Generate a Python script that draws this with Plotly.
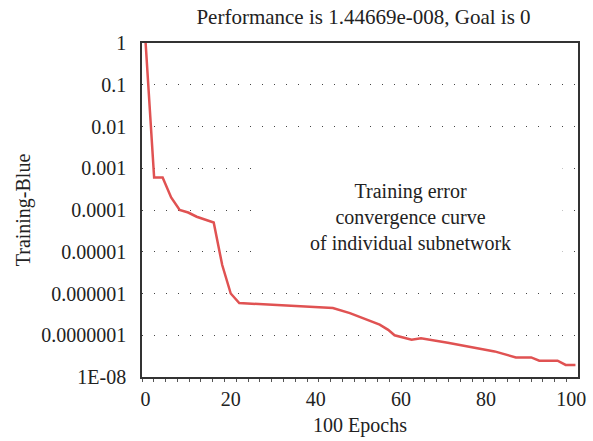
import plotly.graph_objects as go

epochs = [0, 2, 4, 6, 8, 10, 12, 16, 18, 20, 22, 30, 40, 44, 48, 52, 55, 57, 58.5,
          62.5, 64.7, 71, 77, 82, 87, 90.6, 92.5, 96.8, 98.7, 101]
errors = [1, 6e-4, 6e-4, 2e-4, 1e-4, 8.7e-5, 6.9e-5, 5e-5, 4.8e-6, 1e-6, 5.9e-7,
          5.4e-7, 4.9e-7, 4.5e-7, 3.4e-7, 2.4e-7, 1.8e-7, 1.35e-7, 1e-7,
          7.8e-8, 8.5e-8, 6.6e-8, 5e-8, 4.1e-8, 2.95e-8, 2.95e-8, 2.45e-8, 2.45e-8,
          1.95e-8, 1.95e-8]

y_tickvals = [1, 0.1, 0.01, 0.001, 1e-4, 1e-5, 1e-6, 1e-7, 1e-8]
y_ticktext = ["1", "0.1", "0.01", "0.001", "0.0001", "0.00001", "0.000001",
              "0.0000001", "1E-08"]
x_tickvals = [0, 20, 40, 60, 80, 100]

title_text = "Performance is 1.44669e-008, Goal is 0"
note_text = "Training error<br>convergence curve<br>of individual subnetwork"

FONT = "Liberation Serif"
INK = "#222222"

fig = go.Figure()
fig.add_trace(go.Scatter(x=epochs, y=errors, mode="lines",
                         line=dict(color="#e05252", width=2.5),
                         showlegend=False, hoverinfo="skip"))

fig.add_shape(type="rect", xref="x", yref="y", x0=27.2, x1=98.0,
              y0=10**-5.5, y1=10**-2.5, fillcolor="white",
              line=dict(width=0), layer="above")
fig.add_annotation(x=62.2, y=-4.17, xref="x", yref="y", text=note_text,
                   showarrow=False, font=dict(family=FONT, size=20, color=INK),
                   align="center")

fig.update_layout(
    width=593, height=441,
    margin=dict(l=142, r=7, t=43, b=64),
    paper_bgcolor="white", plot_bgcolor="white",
    font=dict(family=FONT, size=20, color=INK),
    title=dict(text=title_text, x=(363.5) / 593, xanchor="center",
               y=1 - 17 / 441, yanchor="middle",
               font=dict(family=FONT, size=21, color=INK)),
)
fig.update_xaxes(range=[-0.85, 101.6], tickvals=x_tickvals, ticks="",
                 showgrid=False, zeroline=False, showline=True, linecolor="#333333",
                 linewidth=1.5, mirror=True,
                 minor=dict(ticks="outside", ticklen=3, tick0=-0.85, dtick=2.77,
                            tickcolor="#555555", showgrid=False),
                 ticklabelstandoff=3,
                 title=dict(text="100 Epochs", standoff=9,
                            font=dict(family=FONT, size=20, color=INK)))
fig.update_yaxes(type="log", range=[-8, 0], tickvals=y_tickvals, ticktext=y_ticktext,
                 ticks="", showgrid=True, gridcolor="#444444", gridwidth=1.1,
                 griddash="1.1px,10.9px", zeroline=False, showline=True,
                 linecolor="#333333", linewidth=1.5, mirror=True,
                 ticklabelstandoff=10,
                 title=dict(text="Training-Blue", standoff=5,
                            font=dict(family=FONT, size=20, color=INK)))

fig.write_html("out.html")
